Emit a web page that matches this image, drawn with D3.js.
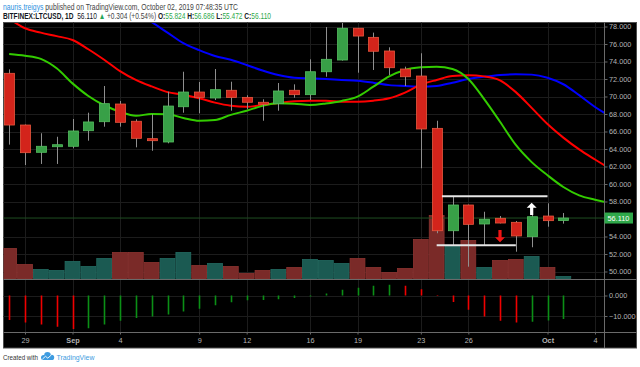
<!DOCTYPE html>
<html>
<head>
<meta charset="utf-8">
<script src="https://cdn.jsdelivr.net/npm/d3@7"></script>
<style>
body { margin: 0; background: #fff; }
svg { display: block; font-family: "Liberation Sans", Arial, sans-serif; }
text { white-space: pre; }
</style>
</head>
<body>
<svg id="chart" width="640" height="367"></svg>
<script>
// daily candles, LTCUSD Bitfinex
var days = ["2019-08-28","2019-08-29","2019-08-30","2019-08-31",
	"2019-09-01","2019-09-02","2019-09-03","2019-09-04","2019-09-05","2019-09-06","2019-09-07","2019-09-08","2019-09-09","2019-09-10",
	"2019-09-11","2019-09-12","2019-09-13","2019-09-14","2019-09-15","2019-09-16","2019-09-17","2019-09-18","2019-09-19","2019-09-20",
	"2019-09-21","2019-09-22","2019-09-23","2019-09-24","2019-09-25","2019-09-26","2019-09-27","2019-09-28","2019-09-29","2019-09-30",
	"2019-10-01","2019-10-02"];
var open  = [72.65,66.74,63.62,64.26, 64.31,66.09,67.12,69.14,67.17,65.18,64.80,68.83,70.51,69.83,
	70.71,69.90,69.34,69.18,70.71,70.21,72.83,74.17,77.80,76.76, 75.20,73.14,72.34,66.36,54.66,57.60,55.43,56.08,55.62,53.98, 56.34,55.824];
var high  = [73.10,66.80,65.80,65.40, 67.43,68.15,71.20,69.49,67.39,67.97,70.55,72.83,71.66,73.14,
	71.69,70.14,69.68,71.54,71.39,74.25,77.94,78.70,77.85,77.30, 75.62,73.41,74.94,67.23,58.55,57.65,56.83,56.34,55.77,56.46, 57.79,56.686];
var low   = [64.50,62.17,62.29,62.29, 64.08,64.95,66.55,66.55,64.19,63.80,64.65,68.15,68.08,69.60,
	68.38,68.54,67.23,68.38,69.86,69.60,72.26,74.10,72.72,73.03, 72.46,71.20,61.80,54.37,53.03,50.55,53.03,55.50,52.26,52.77, 55.12,55.472];
var close = [66.74,63.58,64.31,64.49, 66.06,67.09,69.18,67.05,65.22,64.95,68.91,70.51,69.90,70.78,
	69.90,69.34,69.11,70.63,70.21,72.83,74.25,77.80,76.91,75.17, 73.29,72.26,66.29,54.66,57.60,55.39,55.97,55.54,54.06,56.26, 55.81,56.110];
var volume = [30,14,9,8, 17,12,20,26,26,16,20,26,13,15, 12,5,8,9,11,19,18,15,20,11, 6,10,39,63,32,38,11,18,19,22, 11,2];
var oscillator = [-12,-13.2,-14.2,-15.3, -16.3,-16,-14.2,-12.3,-11,-10.3,-9.3,-7.8,-6.5,-4.8,
	-3.3,-2.3,-2.2,-1.8,-1.2,-0.5,1,2.8,3.8,4.8, 5.2,4.8,3,-0.3,-3.2,-7,-10.3,-12.3,-13.2,-12.8, -12.2,-11.5];

// alligator lines run 3 days past the last candle
var lineDays = days.concat(["2019-10-03","2019-10-04","2019-10-05"]);
var lips  = [74.86,74.66,74.30,73.22, 71.50,70.06,69.00,68.26,67.80,68.00,67.96,67.55,67.23,67.31,
	67.90,68.38,68.93,69.22,69.18,69.03,69.20,69.49,69.98,71.12, 72.30,73.03,73.33,73.41,73.14,72.00,69.70,67.12,64.46,62.50,
	61.00,59.66,58.70,58.20,57.80];
var teeth = [78.90,77.80,77.30,76.90, 76.46,75.40,74.20,72.90,71.90,71.15,70.50,70.20,69.80,69.30,
	68.95,68.83,69.03,69.26,69.45,69.52,69.52,69.41,69.41,69.52, 69.80,70.45,71.35,71.89,72.34,72.42,72.30,71.85,70.50,68.70,
	66.85,65.30,63.95,62.80,61.70];
var jaw   = [null,null,null,null, null,null,null,null,79.50,78.50,77.30,76.10,75.30,74.63,
	74.20,73.60,72.97,72.46,72.15,72.08,72.00,71.89,71.80,71.58, 71.30,71.20,71.12,71.20,71.58,72.00,72.26,72.46,72.54,72.50,
	72.15,71.40,70.15,68.80,67.70];

var priceTicks = [50,52,54,58,60,62,64,66,68,70,72,74,76,78];
var oscTicks = [0,-10];
var timeTicks = ["2019-08-29","2019-09-01","2019-09-04","2019-09-09","2019-09-12","2019-09-16","2019-09-19","2019-09-23","2019-09-26","2019-10-01","2019-10-04"];
var timeLabels = ["29","Sep","4","9","12","16","19","23","26","Oct","4"];
var lastPrice = 56.110;

// drawn annotations
var levelStart = ["2019-09-24T08:00:00Z","2019-09-24T00:00:00Z"];
var levelEnd = ["2019-10-01T00:00:00Z","2019-09-29T00:00:00Z"];
var levelPrice = [58.6, 53.0];
var arrowDays = ["2019-09-30","2019-09-28"];
var arrowFrom = [56.45, 54.75];
var arrowTo = [57.85, 53.35];
var arrowColors = ["#ffffff","#f01414"];

var headerLine1 = [["nauris.treigys","#2d8fe0",false],[" published on TradingView.com, October 02, 2019 07:48:35 UTC","#444",false]];
var headerLine2 = [["BITFINEX:LTCUSD, 1D","#131722",true],["  56.110 ","#131722",false],["\u25B2","#26a65b",false],[" +0.304 (+0.54%) ","#444",false],
	["O:","#131722",true],["55.824 ","#2ea84a",false],["H:","#131722",true],["56.686 ","#2ea84a",false],
	["L:","#131722",true],["55.472 ","#2ea84a",false],["C:","#131722",true],["56.110","#2ea84a",false]];

var paneLeft = 3.5, paneRight = 604.5, paneTop = 22.5, priceBottom = 279, oscBottom = 332.5, paneBottom = 348;

var parseDay = d3.utcParse("%Y-%m-%d");
var svg = d3.select("#chart");

var x = d3.scaleUtc().domain([parseDay("2019-08-29"), parseDay("2019-10-04")]).range([25, 595]);
var y = d3.scaleLinear().domain([50, 78]).range([271.5, 26.5]);
var yVol = d3.scaleLinear().domain([0, 63]).range([278.5, 215.5]);
var yOsc = d3.scaleLinear().domain([-10, 0]).range([316, 295.5]);
var step = x(parseDay("2019-08-30")) - x(parseDay("2019-08-29"));

// text squeezed to the width it has in the original
var squeezedText = function(parts, left, baseline, size, width) {
	var g = svg.append("g");
	var t = g.append("text").attr("x", 0).attr("y", 0).attr("font-size", size);
	parts.forEach(function(p) {
		t.append("tspan").attr("fill", p[1]).attr("font-weight", p[2] ? "bold" : null).text(p[0]);
	});
	var w = t.node().getComputedTextLength();
	g.attr("transform", "translate(" + left + "," + baseline + ") scale(" + (width / w) + ",1)");
};
squeezedText(headerLine1, 3, 9.5, 8.6, 235);
squeezedText(headerLine2, 3, 18.5, 8.6, 268);

// panel
svg.append("rect").attr("x", paneLeft).attr("y", paneTop).attr("width", 633).attr("height", paneBottom - paneTop)
	.attr("fill", "#000").attr("stroke", "#4d4d4d");

var defs = svg.append("defs");
defs.append("clipPath").attr("id", "clipPrice").append("rect")
	.attr("x", paneLeft).attr("y", paneTop + 0.5).attr("width", paneRight - paneLeft).attr("height", priceBottom - paneTop - 0.5);
defs.append("clipPath").attr("id", "clipOsc").append("rect")
	.attr("x", paneLeft).attr("y", priceBottom).attr("width", paneRight - paneLeft).attr("height", oscBottom - priceBottom);

// grid
var grid = svg.append("g").attr("stroke", "#1c1c1c").attr("stroke-width", 1);
grid.selectAll(".hg").data(priceTicks).enter().append("line")
	.attr("x1", paneLeft).attr("x2", paneRight)
	.attr("y1", function(d) { return Math.round(y(d)) + 0.5; })
	.attr("y2", function(d) { return Math.round(y(d)) + 0.5; });
grid.selectAll(".og").data(oscTicks).enter().append("line")
	.attr("x1", paneLeft).attr("x2", paneRight)
	.attr("y1", function(d) { return Math.round(yOsc(d)) + 0.5; })
	.attr("y2", function(d) { return Math.round(yOsc(d)) + 0.5; });
grid.selectAll(".vg").data(timeTicks).enter().append("line")
	.attr("x1", function(d) { return Math.round(x(parseDay(d))) + 0.5; })
	.attr("x2", function(d) { return Math.round(x(parseDay(d))) + 0.5; })
	.attr("y1", paneTop).attr("y2", oscBottom);

var pricePane = svg.append("g").attr("clip-path", "url(#clipPrice)");

// volume
pricePane.selectAll(".vol").data(days).enter().append("rect")
	.attr("x", function(d) { return x(parseDay(d)) - step / 2 + 0.5; })
	.attr("width", step - 1)
	.attr("y", function(d, i) { return yVol(volume[i]); })
	.attr("height", function(d, i) { return yVol(0) - yVol(volume[i]); })
	.attr("fill", function(d, i) { return close[i] < open[i] ? "#7a2a28" : "#1b5a52"; })
	.attr("stroke", function(d, i) { return close[i] < open[i] ? "#8d3431" : "#236b62"; })
	.attr("stroke-width", 0.8);

// last price line
pricePane.append("line")
	.attr("x1", paneLeft).attr("x2", paneRight)
	.attr("y1", y(lastPrice)).attr("y2", y(lastPrice))
	.attr("stroke", "#1f4d22").attr("stroke-width", 1);

// alligator
var drawLine = function(values, color) {
	var line = d3.line()
		.defined(function(d, i) { return values[i] != null; })
		.x(function(d) { return x(parseDay(d)); })
		.y(function(d, i) { return y(values[i]); })
		.curve(d3.curveMonotoneX);
	pricePane.append("path").datum(lineDays)
		.attr("d", line)
		.attr("fill", "none").attr("stroke", color).attr("stroke-width", 2);
};
drawLine(jaw, "#0000ff");
drawLine(teeth, "#ff0000");
drawLine(lips, "#33cc00");

// candles
var candles = pricePane.selectAll(".candle").data(days).enter().append("g");
candles.append("line")
	.attr("x1", function(d) { return Math.round(x(parseDay(d))) + 0.5; })
	.attr("x2", function(d) { return Math.round(x(parseDay(d))) + 0.5; })
	.attr("y1", function(d, i) { return y(high[i]); })
	.attr("y2", function(d, i) { return y(low[i]); })
	.attr("stroke", "#8f8f8f").attr("stroke-width", 1);
candles.append("rect")
	.attr("x", function(d) { return Math.round(x(parseDay(d))) - 4.5; })
	.attr("width", 10)
	.attr("y", function(d, i) { return y(Math.max(open[i], close[i])); })
	.attr("height", function(d, i) { return Math.max(1.5, Math.abs(y(open[i]) - y(close[i]))); })
	.attr("fill", function(d, i) { return close[i] < open[i] ? "#d3241b" : "#38a047"; })
	.attr("stroke", function(d, i) { return close[i] < open[i] ? "#e8573f" : "#55bd60"; })
	.attr("stroke-width", 0.8);

// annotations
levelPrice.forEach(function(p, i) {
	pricePane.append("line")
		.attr("x1", x(d3.isoParse(levelStart[i]))).attr("x2", x(d3.isoParse(levelEnd[i])))
		.attr("y1", y(p)).attr("y2", y(p))
		.attr("stroke", "#e6e6e6").attr("stroke-width", 2);
});
arrowDays.forEach(function(d, i) {
	var cx = x(parseDay(d));
	var y0 = y(arrowFrom[i]), y1 = y(arrowTo[i]);
	var dir = y1 < y0 ? -1 : 1;
	var head = y1 - dir * 5;
	var path = d3.path();
	path.moveTo(cx - 1.6, y0);
	path.lineTo(cx - 1.6, head);
	path.lineTo(cx - 5, head);
	path.lineTo(cx, y1);
	path.lineTo(cx + 5, head);
	path.lineTo(cx + 1.6, head);
	path.lineTo(cx + 1.6, y0);
	path.closePath();
	pricePane.append("path").attr("d", path.toString()).attr("fill", arrowColors[i]);
});

// oscillator histogram
svg.append("g").attr("clip-path", "url(#clipOsc)")
	.selectAll("line").data(days).enter().append("line")
	.attr("x1", function(d) { return Math.round(x(parseDay(d))) + 0.5; })
	.attr("x2", function(d) { return Math.round(x(parseDay(d))) + 0.5; })
	.attr("y1", yOsc(0))
	.attr("y2", function(d, i) { return yOsc(oscillator[i]); })
	.attr("stroke", function(d, i) { return i > 0 && oscillator[i] > oscillator[i - 1] ? "#0b8f16" : "#f00000"; })
	.attr("stroke-width", 1.6);

// dividers
var dividers = svg.append("g").attr("stroke", "#6a6a6a").attr("stroke-width", 1);
dividers.append("line").attr("x1", paneLeft).attr("x2", 636.5).attr("y1", priceBottom + 0.5).attr("y2", priceBottom + 0.5);
dividers.append("line").attr("x1", paneLeft).attr("x2", 636.5).attr("y1", oscBottom).attr("y2", oscBottom);
dividers.append("line").attr("x1", paneRight).attr("x2", paneRight).attr("y1", paneTop).attr("y2", paneBottom);

// axes
var styleAxis = function(g) {
	g.select(".domain").remove();
	g.selectAll(".tick line").attr("stroke", "#666");
	g.selectAll(".tick text").attr("fill", "#b4b4b4").attr("font-size", 7.3)
		.attr("font-family", "\"Liberation Sans\", Arial, sans-serif");
};
svg.append("g").attr("transform", "translate(" + paneRight + ",0)")
	.call(d3.axisRight(y).tickValues(priceTicks).tickSize(3).tickPadding(1.5).tickFormat(d3.format(".3f")))
	.call(styleAxis);
svg.append("g").attr("transform", "translate(" + paneRight + ",0)")
	.call(d3.axisRight(yOsc).tickValues(oscTicks).tickSize(3).tickPadding(1.5).tickFormat(d3.format(".3f")))
	.call(styleAxis);
var timeAxis = svg.append("g").attr("transform", "translate(0," + oscBottom + ")")
	.call(d3.axisBottom(x).tickValues(timeTicks.map(parseDay)).tickSize(2).tickPadding(3.5)
		.tickFormat(function(d, i) { return timeLabels[i]; }))
	.call(styleAxis);
timeAxis.selectAll(".tick text")
	.attr("font-weight", function(d, i) { return isNaN(+timeLabels[i]) ? "bold" : null; });

// last price label
svg.append("rect").attr("x", paneRight).attr("y", y(lastPrice) - 5.5).attr("width", 28.5).attr("height", 11)
	.attr("fill", "#2fa84a");
svg.append("text").attr("x", paneRight + 3).attr("y", y(lastPrice) + 2.6)
	.attr("fill", "#fff").attr("font-size", 7.3).text(d3.format(".3f")(lastPrice));

// footer
squeezedText([["Created with", "#333", false]], 3, 360, 7.5, 35);
var logo = svg.append("g").attr("fill", "#3d9be0");
logo.append("circle").attr("cx", 43.5).attr("cy", 357.5).attr("r", 2.5);
logo.append("circle").attr("cx", 47.5).attr("cy", 355.2).attr("r", 3.3);
logo.append("circle").attr("cx", 51.6).attr("cy", 357.4).attr("r", 2.6);
logo.append("rect").attr("x", 43.5).attr("y", 357).attr("width", 8.1).attr("height", 3);
svg.append("polyline").attr("points", "42.5,359 45.5,356.3 47.8,358.2 51.5,354.8")
	.attr("fill", "none").attr("stroke", "#fff").attr("stroke-width", 0.9);
squeezedText([["TradingView", "#3d9be0", false]], 56.5, 360, 7.5, 38);
</script>
</body>
</html>
